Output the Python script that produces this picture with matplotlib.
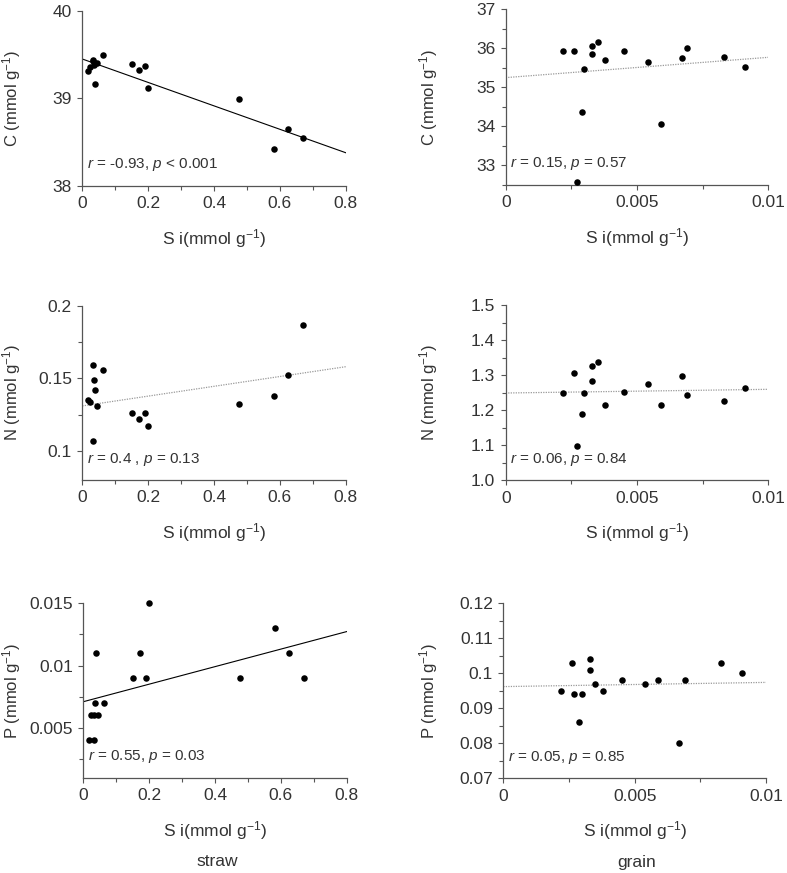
import numpy as np
import matplotlib
matplotlib.use("Agg")
import matplotlib.pyplot as plt
from matplotlib.ticker import FixedLocator, FixedFormatter, MultipleLocator

plt.rcParams['font.family'] = ['Liberation Sans', 'DejaVu Sans']
plt.rcParams['mathtext.fontset'] = 'custom'
plt.rcParams['mathtext.rm'] = 'Liberation Sans'
plt.rcParams['mathtext.it'] = 'Liberation Sans:italic'
plt.rcParams['mathtext.default'] = 'regular'

# straw Si (mmol/g) and nutrients
straw_si = [0.018, 0.023, 0.033, 0.034, 0.036, 0.039, 0.045, 0.063,
            0.152, 0.172, 0.189, 0.200, 0.477, 0.583, 0.624, 0.669]
straw_c = [39.31, 39.36, 39.44, 39.42, 39.38, 39.16, 39.40, 39.49,
           39.39, 39.32, 39.37, 39.12, 38.99, 38.42, 38.65, 38.54]
straw_n = [0.135, 0.134, 0.159, 0.107, 0.149, 0.142, 0.131, 0.156,
           0.126, 0.122, 0.126, 0.117, 0.132, 0.138, 0.152, 0.187]
straw_p = [0.004, 0.006, 0.004, 0.006, 0.007, 0.011, 0.006, 0.007,
           0.009, 0.011, 0.009, 0.015, 0.009, 0.013, 0.011, 0.009]

# grain Si (mmol/g) and nutrients
grain_si = [0.0022, 0.0026, 0.0027, 0.0029, 0.0030, 0.0033, 0.0033, 0.0035,
            0.0038, 0.0045, 0.0054, 0.0059, 0.0067, 0.0069, 0.0083, 0.0091]
grain_c = [35.92, 35.92, 32.57, 34.36, 35.47, 36.07, 35.86, 36.16,
           35.70, 35.92, 35.64, 34.07, 35.76, 36.02, 35.78, 35.53]
grain_n = [1.248, 1.305, 1.097, 1.190, 1.250, 1.327, 1.284, 1.337,
           1.216, 1.252, 1.276, 1.216, 1.298, 1.243, 1.226, 1.262]
grain_p = [0.095, 0.103, 0.094, 0.086, 0.094, 0.104, 0.101, 0.097,
           0.095, 0.098, 0.097, 0.098, 0.080, 0.098, 0.103, 0.100]

# regression lines (value at left end, value at right end of x axis)
fit_straw_c = (39.448, 38.377)
fit_straw_n = (0.131, 0.158)
fit_straw_p = (0.0071, 0.01273)
fit_grain_c = (35.25, 35.77)
fit_grain_n = (1.249, 1.2595)
fit_grain_p = (0.0962, 0.0974)

stats = ["$\\mathit{r}$ = -0.93, $\\mathit{p}$ < 0.001",
         "$\\mathit{r}$ = 0.15, $\\mathit{p}$ = 0.57",
         "$\\mathit{r}$ = 0.4 , $\\mathit{p}$ = 0.13",
         "$\\mathit{r}$ = 0.06, $\\mathit{p}$ = 0.84",
         "$\\mathit{r}$ = 0.55, $\\mathit{p}$ = 0.03",
         "$\\mathit{r}$ = 0.05, $\\mathit{p}$ = 0.85"]

straw_xticks = [0, 0.2, 0.4, 0.6, 0.8]
straw_xlabels = ["0", "0.2", "0.4", "0.6", "0.8"]
grain_xticks = [0, 0.005, 0.01]
grain_xlabels = ["0", "0.005", "0.01"]

W, H = 787, 873
fig = plt.figure(figsize=(W / 100, H / 100), dpi=100)

AX = '#555555'
TXT = '#333333'


def make_ax(l, t, r, b):
    return fig.add_axes([l / W, 1 - b / H, (r - l) / W, (b - t) / H])


def panel(box, x, y, fit, solid, xlim, xticks, xlabels, xminor,
          ylim, yticks, ylabels, yminor, ylabel, stat, ylab_x):
    ax = make_ax(*box)
    ax.scatter(x, y, s=22, color='black', zorder=3, clip_on=False, linewidths=0)
    if solid:
        ax.plot(xlim, fit, color='black', lw=0.8)
    else:
        ax.plot(xlim, fit, color='#999999', lw=0.9, ls=(0, (1, 1)))
    ax.set_xlim(xlim)
    ax.set_ylim(ylim)
    for s in ['top', 'right']:
        ax.spines[s].set_visible(False)
    for s in ['left', 'bottom']:
        ax.spines[s].set_color(AX)
        ax.spines[s].set_linewidth(0.9)
    ax.xaxis.set_major_locator(FixedLocator(xticks))
    ax.xaxis.set_major_formatter(FixedFormatter(xlabels))
    ax.xaxis.set_minor_locator(MultipleLocator(xminor))
    ax.yaxis.set_major_locator(FixedLocator(yticks))
    ax.yaxis.set_major_formatter(FixedFormatter(ylabels))
    if yminor:
        ax.yaxis.set_minor_locator(MultipleLocator(yminor))
    ax.tick_params(which='major', direction='out', length=3.5, width=0.8,
                   color=AX, labelsize=12.5, labelcolor=TXT, pad=4)
    ax.tick_params(which='minor', direction='out', length=3, width=0.8, color=AX)
    ax.set_ylabel(ylabel, fontsize=12, color=TXT)
    ax.yaxis.set_label_coords(ylab_x, 0.5)
    ax.set_xlabel("S i(mmol g$^{-1}$)", fontsize=12.5, color=TXT)
    ax.xaxis.set_label_coords(0.5, -0.235)
    ax.text(0.018, 0.12, stat, transform=ax.transAxes, fontsize=11,
            color=TXT, va='center', ha='left')
    return ax


panel((82.3, 10.7, 345.7, 185.7), straw_si, straw_c, fit_straw_c, True,
      (0, 0.8), straw_xticks, straw_xlabels, 0.1,
      (38, 40), [38, 39, 40], ["38", "39", "40"], None,
      "C (mmol g$^{-1}$)", stats[0], -0.225)
panel((505.7, 9.3, 768.3, 185.0), grain_si, grain_c, fit_grain_c, False,
      (0, 0.01), grain_xticks, grain_xlabels, 0.0025,
      (32.5, 37), [33, 34, 35, 36, 37], ["33", "34", "35", "36", "37"], 0.5,
      "C (mmol g$^{-1}$)", stats[1], -0.25)
panel((82.3, 305.7, 345.7, 480.0), straw_si, straw_n, fit_straw_n, False,
      (0, 0.8), straw_xticks, straw_xlabels, 0.1,
      (0.08, 0.2), [0.1, 0.15, 0.2], ["0.1", "0.15", "0.2"], 0.025,
      "N (mmol g$^{-1}$)", stats[2], -0.225)
panel((505.7, 305.0, 768.3, 480.3), grain_si, grain_n, fit_grain_n, False,
      (0, 0.01), grain_xticks, grain_xlabels, 0.0025,
      (1.0, 1.5), [1.0, 1.1, 1.2, 1.3, 1.4, 1.5],
      ["1.0", "1.1", "1.2", "1.3", "1.4", "1.5"], 0.05,
      "N (mmol g$^{-1}$)", stats[3], -0.25)
panel((83.3, 603.3, 346.7, 777.7), straw_si, straw_p, fit_straw_p, True,
      (0, 0.8), straw_xticks, straw_xlabels, 0.1,
      (0.001, 0.015), [0.005, 0.01, 0.015], ["0.005", "0.01", "0.015"], 0.0025,
      "P (mmol g$^{-1}$)", stats[4], -0.23)
panel((503.3, 603.3, 766.0, 778.3), grain_si, grain_p, fit_grain_p, False,
      (0, 0.01), grain_xticks, grain_xlabels, 0.0025,
      (0.07, 0.12), [0.07, 0.08, 0.09, 0.1, 0.11, 0.12],
      ["0.07", "0.08", "0.09", "0.1", "0.11", "0.12"], 0.005,
      "P (mmol g$^{-1}$)", stats[5], -0.24)

fig.text(217 / W, 1 - 862 / H, "straw", fontsize=12.5, color=TXT, ha='center', va='center')
fig.text(637 / W, 1 - 863 / H, "grain", fontsize=12.5, color=TXT, ha='center', va='center')

fig.savefig("out.png", dpi=100)
